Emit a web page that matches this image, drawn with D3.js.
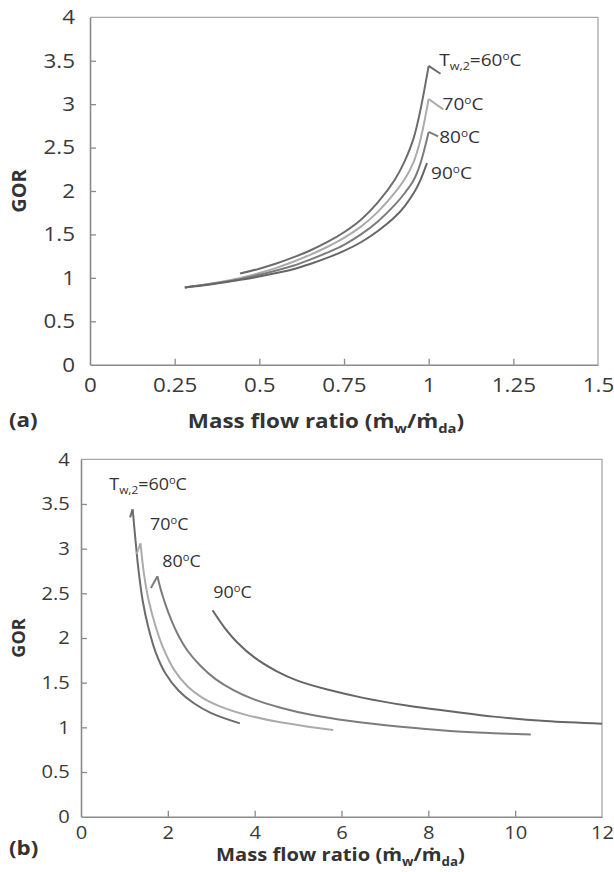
<!DOCTYPE html>
<html><head><meta charset="utf-8">
<script src="https://cdnjs.cloudflare.com/ajax/libs/d3/7.8.5/d3.min.js"></script>
<style>body{margin:0;background:#fff}svg{display:block;font-family:"Open Sans",sans-serif}</style>
</head><body><svg id="c" width="614" height="872"></svg>
<script>
// ---------- data ----------
const seriesNames = ["60", "70", "80", "90"];
const xTicksA = [0, 0.25, 0.5, 0.75, 1, 1.25, 1.5];
const xTicksB = [0, 2, 4, 6, 8, 10, 12];
const yTicks = [0, 0.5, 1, 1.5, 2, 2.5, 3, 3.5, 4];

// panel (a): [mass flow ratio, GOR]
const a60 = [[0.443,1.05],[0.5,1.105],[0.55,1.165],[0.6,1.235],[0.65,1.315],[0.7,1.41],[0.75,1.525],[0.8,1.67],[0.85,1.87],[0.9,2.13],[0.93,2.35],[0.955,2.60],[0.975,2.92],[1.0,3.44],[1.035,3.35]];
const a70 = [[0.28,0.89],[0.35,0.93],[0.4,0.965],[0.45,1.005],[0.5,1.055],[0.55,1.115],[0.6,1.185],[0.65,1.265],[0.7,1.355],[0.75,1.46],[0.8,1.59],[0.85,1.76],[0.9,1.98],[0.93,2.14],[0.955,2.33],[0.975,2.58],[1.0,3.06],[1.043,2.94]];
const a80 = [[0.28,0.89],[0.35,0.925],[0.4,0.955],[0.45,0.99],[0.5,1.035],[0.55,1.085],[0.6,1.14],[0.65,1.21],[0.7,1.29],[0.75,1.38],[0.8,1.50],[0.85,1.65],[0.9,1.84],[0.93,1.98],[0.955,2.12],[0.975,2.31],[1.0,2.68],[1.028,2.63]];
const a90 = [[0.28,0.89],[0.35,0.92],[0.4,0.95],[0.45,0.98],[0.5,1.015],[0.55,1.055],[0.6,1.10],[0.65,1.16],[0.7,1.23],[0.75,1.31],[0.8,1.41],[0.85,1.54],[0.9,1.70],[0.93,1.83],[0.955,1.97],[0.975,2.12],[0.995,2.32]];

// panel (b)
const b60 = [[1.13,3.35],[1.19,3.44],[1.25,3.12],[1.32,2.78],[1.42,2.42],[1.55,2.12],[1.72,1.84],[1.95,1.60],[2.25,1.41],[2.6,1.27],[3.0,1.16],[3.66,1.045]];
const b70 = [[1.28,2.94],[1.37,3.06],[1.45,2.72],[1.55,2.44],[1.7,2.16],[1.9,1.88],[2.15,1.64],[2.45,1.46],[2.8,1.33],[3.2,1.235],[3.8,1.14],[4.5,1.065],[5.2,1.01],[5.81,0.97]];
const b80 = [[1.61,2.56],[1.76,2.69],[1.85,2.52],[2.0,2.30],[2.2,2.07],[2.45,1.86],[2.75,1.69],[3.1,1.54],[3.5,1.42],[4.0,1.31],[4.6,1.22],[5.3,1.14],[6.2,1.07],[7.3,1.01],[8.5,0.96],[9.5,0.935],[10.36,0.92]];
const b90 = [[3.03,2.31],[3.3,2.12],[3.6,1.95],[4.0,1.78],[4.5,1.63],[5.0,1.52],[5.7,1.42],[6.5,1.33],[7.5,1.245],[8.5,1.18],[9.5,1.12],[10.7,1.07],[12,1.04]];

// ---------- style ----------
const colors = ["#6c6c6c", "#ababab", "#7c7c7c", "#666666"];
const SX = 1.12; // horizontal text stretch of the reference
const svg = d3.select("#c");

function tempLabel(g, px, py, name, withPrefix, fs) {
  const t = g.append("text").attr("transform", `translate(${px},${py}) scale(${SX},1)`)
    .attr("font-size", fs).attr("fill", "#333");
  if (withPrefix) {
    t.append("tspan").text("T");
    t.append("tspan").attr("font-size", fs * 0.66).attr("dy", fs * 0.26).text("w,2");
    t.append("tspan").attr("dy", -fs * 0.26).text("=" + name);
  } else {
    t.append("tspan").text(name);
  }
  t.append("tspan").attr("font-size", fs * 0.62).attr("dy", -fs * 0.36).text("o");
  t.append("tspan").attr("dy", fs * 0.36).text("C");
}

function xTitle(g, cx, by, fs) {
  const t = g.append("text").attr("transform", `translate(${cx},${by}) scale(${SX},1)`)
    .attr("text-anchor", "middle").attr("font-size", fs).attr("font-weight", "bold").attr("fill", "#333");
  t.append("tspan").text("Mass flow ratio (ṁ");
  t.append("tspan").attr("font-size", fs * 0.66).attr("dy", fs * 0.28).text("w");
  t.append("tspan").attr("dy", -fs * 0.28).text("/ṁ");
  t.append("tspan").attr("font-size", fs * 0.66).attr("dy", fs * 0.28).text("da");
  t.append("tspan").attr("dy", -fs * 0.28).text(")");
}

function panel(cfg) {
  const x = d3.scaleLinear().domain(cfg.xDomain).range([cfg.left, cfg.right]);
  const y = d3.scaleLinear().domain([0, 4]).range([cfg.bottom, cfg.top]);
  const g = svg.append("g");
  g.append("path").attr("d", `M${cfg.left},${cfg.top}H${cfg.right}V${cfg.bottom}`)
    .attr("fill", "none").attr("stroke", "#a8a8a8").attr("stroke-width", 1.3);
  const xa = g.append("g").attr("transform", `translate(0,${cfg.bottom})`)
    .call(d3.axisBottom(x).tickValues(cfg.xTicks).tickFormat(d => String(d))
      .tickSizeInner(-6).tickSizeOuter(0).tickPadding(cfg.xPad));
  const ya = g.append("g").attr("transform", `translate(${cfg.left},0)`)
    .call(d3.axisLeft(y).tickValues(yTicks).tickFormat(d => String(d))
      .tickSizeInner(-6).tickSizeOuter(0).tickPadding(cfg.yPad));
  [xa, ya].forEach(a => {
    a.select(".domain").attr("stroke", "#8a8a8a").attr("stroke-width", 1.6);
    a.selectAll(".tick line").attr("stroke", "#8a8a8a").attr("stroke-width", 1.3);
    a.selectAll(".tick text").attr("font-size", cfg.tickFs).attr("fill", "#3a3a3a")
      .attr("font-family", "Open Sans").attr("transform", `scale(${SX},1)`);
  });
  xa.selectAll(".tick").filter(d => d === cfg.xDomain[0] || d === cfg.xDomain[1]).select("line").remove();
  ya.selectAll(".tick").filter(d => d === 0 || d === 4).select("line").remove();

  const smooth = d3.line().x(d => x(d[0])).y(d => y(d[1])).curve(d3.curveCatmullRom.alpha(0.5));
  const straight = d3.line().x(d => x(d[0])).y(d => y(d[1]));
  cfg.data.forEach((pts, i) => {
    const im = d3.maxIndex(pts, d => d[1]);
    [pts.slice(0, im + 1), pts.slice(im)].forEach(p => {
      if (p.length < 2) return;
      g.append("path").attr("d", (p.length === 2 ? straight : smooth)(p))
        .attr("fill", "none").attr("stroke", colors[i]).attr("stroke-width", 2)
        .attr("stroke-linejoin", "miter");
    });
  });
  cfg.labels.forEach((lp, i) => tempLabel(g, x(lp[0]), y(lp[1]), seriesNames[i], i === 0, cfg.labelFs));

  g.append("text").attr("transform", `translate(${cfg.gorX},${(cfg.top + cfg.bottom) / 2}) rotate(-90)`)
    .attr("text-anchor", "middle").attr("font-size", cfg.titleFs).attr("font-weight", "bold")
    .attr("fill", "#333").text("GOR");
  xTitle(g, cfg.titleX, cfg.titleY, cfg.titleFs);
  g.append("text").attr("transform", `translate(9,${cfg.tagY}) scale(${SX},1)`)
    .attr("font-size", 20).attr("font-weight", "bold").attr("fill", "#333").text(cfg.tag);
}

panel({
  xDomain: [0, 1.5], xTicks: xTicksA, left: 90, right: 598, top: 17.3, bottom: 364.7,
  xPad: 13, yPad: 13.4, tickFs: 20, labelFs: 17, titleFs: 20,
  data: [a60, a70, a80, a90],
  labels: [[1.031, 3.44], [1.041, 2.93], [1.031, 2.556], [1.007, 2.135]],
  gorX: 25.5, titleX: 326, titleY: 427.5, tag: "(a)", tagY: 427
});
panel({
  xDomain: [0, 12], xTicks: xTicksB, left: 81, right: 602, top: 459.3, bottom: 816.7,
  xPad: 9.5, yPad: 10, tickFs: 18, labelFs: 16, titleFs: 18,
  data: [b60, b70, b80, b90],
  labels: [[0.652, 3.656], [1.589, 3.209], [1.872, 2.798], [3.047, 2.451]],
  gorX: 25, titleX: 340.5, titleY: 861, tag: "(b)", tagY: 855
});
</script></body></html>
